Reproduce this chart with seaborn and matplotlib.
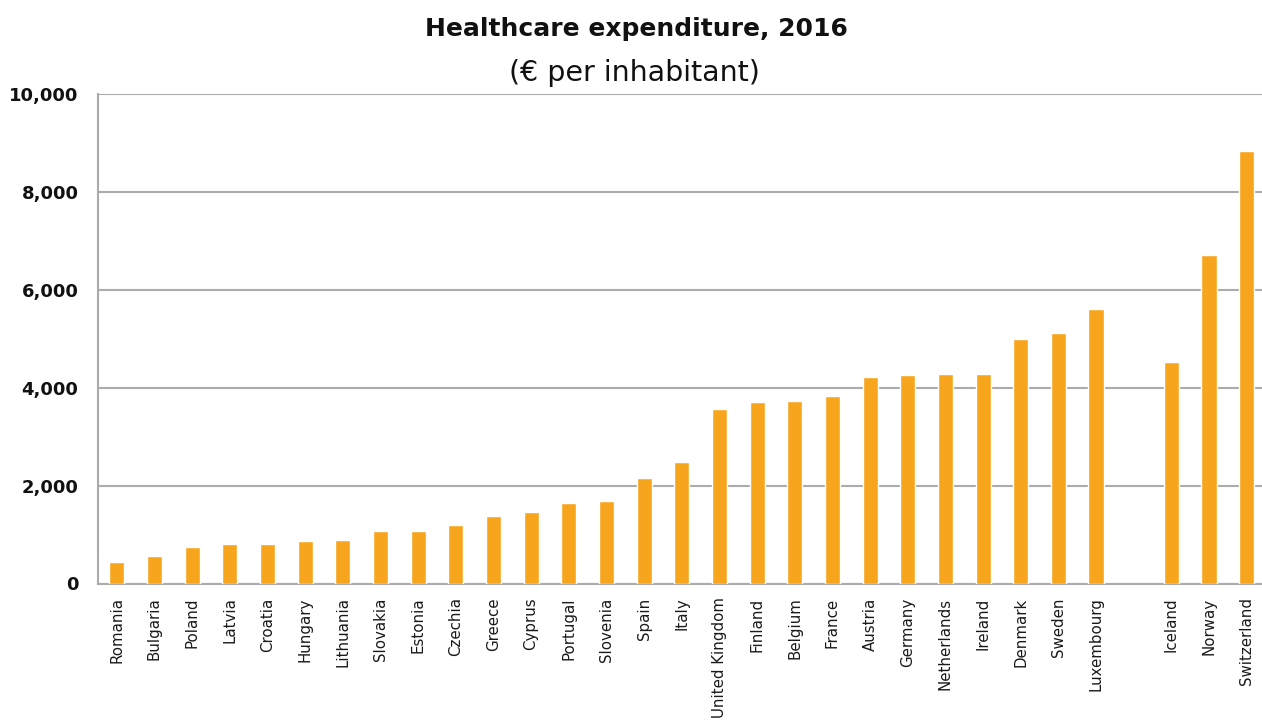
import matplotlib
matplotlib.use("Agg")
import matplotlib.pyplot as plt
import seaborn as sns
import pandas as pd
import numpy as np

# Healthcare expenditure per inhabitant (EUR), 2016
eu_countries = ["Romania", "Bulgaria", "Poland", "Latvia", "Croatia", "Hungary",
                "Lithuania", "Slovakia", "Estonia", "Czechia", "Greece", "Cyprus",
                "Portugal", "Slovenia", "Spain", "Italy", "United Kingdom", "Finland",
                "Belgium", "France", "Austria", "Germany", "Netherlands", "Ireland",
                "Denmark", "Sweden", "Luxembourg"]
eu_values = [440, 560, 745, 800, 800, 860, 895, 1075, 1075, 1200, 1380, 1470,
             1650, 1680, 2160, 2480, 3560, 3710, 3735, 3825, 4215, 4250, 4280,
             4275, 5000, 5115, 5600]
efta_countries = ["Iceland", "Norway", "Switzerland"]
efta_values = [4520, 6710, 8840]

yticks = [0, 2000, 4000, 6000, 8000, 10000]
ytick_labels = ["0", "2,000", "4,000", "6,000", "8,000", "10,000"]

bar_color = "#F8A51E"
grid_color = "#ABABAB"

# a blank slot separates EU members from EFTA countries
gap = " "
order = eu_countries + [gap] + efta_countries
df = pd.DataFrame({"country": eu_countries + efta_countries,
                   "value": eu_values + efta_values})

sns.set_style("white")
plt.rcParams["font.family"] = ["DejaVu Sans"]

fig = plt.figure(figsize=(12.62, 7.24), dpi=100)
ax = fig.add_axes([98 / 1262, (724 - 583.5) / 724, 1167.5 / 1262, 489.5 / 724])

sns.barplot(data=df, x="country", y="value", order=order, color=bar_color,
            saturation=1, width=0.40, ax=ax, zorder=3)

ax.set_xlim(-0.5, len(order) - 0.5)
ax.set_ylim(0, 10000)
ax.set_yticks(yticks)
ax.set_yticklabels(ytick_labels, fontsize=13, fontweight="bold", color="#111111")
ax.yaxis.grid(True, color=grid_color, linewidth=1.5, zorder=0)
ax.set_axisbelow(True)
for side in ["top", "right"]:
    ax.spines[side].set_visible(False)
for side in ["left", "bottom"]:
    ax.spines[side].set_color(grid_color)
    ax.spines[side].set_linewidth(1.5)

ax.tick_params(axis="y", length=7, width=1.5, color=grid_color, pad=7)
ax.set_xticks(range(len(order)))
ax.set_xticklabels(order, rotation=90, fontsize=10.8, color="#1a1a1a")
ax.tick_params(axis="x", which="major", length=0, pad=10)
ax.set_xticks(np.arange(-0.5, len(order) - 0.5 + 1e-9, 1.0), minor=True)
ax.tick_params(axis="x", which="minor", length=6, width=1.5, color=grid_color)
ax.set_xlabel("")
ax.set_ylabel("")

fig.text(0.504, 0.960, "Healthcare expenditure, 2016", ha="center", va="center",
         fontsize=18, fontweight="bold", color="#111111")
fig.text(0.503, 0.899, "(€ per inhabitant)", ha="center", va="center",
         fontsize=20.5, color="#111111")

fig.savefig("out.png", dpi=100)
